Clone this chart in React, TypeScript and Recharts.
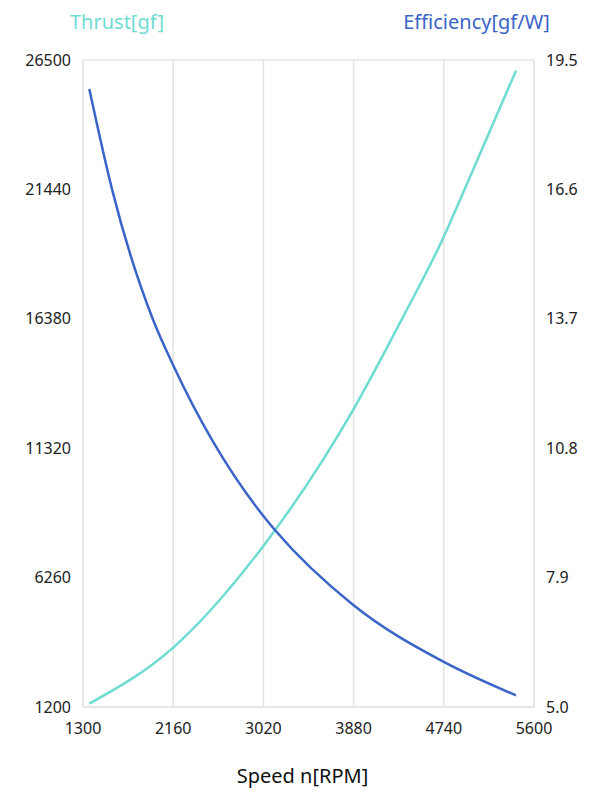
import React from 'react';
import { LineChart, Line, XAxis, YAxis, CartesianGrid } from 'recharts';

const speedTicks = [1300, 2160, 3020, 3880, 4740, 5600];
const thrustTicks = [1200, 6260, 11320, 16380, 21440, 26500];
const effTicks = [5.0, 7.9, 10.8, 13.7, 16.6, 19.5];

const thrustSpeeds = [1360, 2160, 3020, 3880, 4342, 4740, 4938, 5428];
const thrustValues = [1330, 3520, 7500, 12850, 16380, 19590, 21440, 26080];

const effSpeeds = [1360, 1577, 1966, 2160, 3020, 3132, 3880, 4740, 5428];
const effValues = [18.85, 16.6, 13.69, 12.66, 9.28, 8.96, 7.28, 6.01, 5.26];

const thrustData = thrustSpeeds.map((s, i) => ({ speed: s, thrust: thrustValues[i] }));
const effData = effSpeeds.map((s, i) => ({ speed: s, eff: effValues[i] }));

const TEAL = '#6FDCD2';
const BLUE = '#3A64C8';
const GRID = '#E5E5E5';
const FONT = '"Noto Sans", sans-serif';

export default function App() {
  const tickStyle = { fill: '#222', fontSize: 16, fontFamily: FONT };
  return (
    <div style={{ position: 'relative', width: 592, height: 783 }}>
      <LineChart
        width={592}
        height={783}
        margin={{ top: 52, right: 0, bottom: 0, left: 0 }}
      >
        <CartesianGrid stroke={GRID} strokeWidth={1.5} />
        <XAxis
          dataKey="speed"
          type="number"
          domain={[1300, 5600]}
          ticks={speedTicks}
          allowDataOverflow
          height={84}
          tickSize={0}
          tickMargin={16}
          axisLine={{ stroke: GRID, strokeWidth: 1.5 }}
          tickLine={false}
          tick={tickStyle}
          label={{
            value: 'Speed n[RPM]',
            position: 'insideBottom',
            offset: 8,
            dx: -6,
            style: { fill: '#111', fontSize: 20, fontFamily: FONT },
          }}
        />
        <YAxis
          yAxisId="left"
          orientation="left"
          type="number"
          domain={[1200, 26500]}
          ticks={thrustTicks}
          allowDataOverflow
          width={75}
          tickSize={0}
          tickMargin={12}
          axisLine={{ stroke: GRID, strokeWidth: 1.5 }}
          tickLine={false}
          tick={tickStyle}
        />
        <YAxis
          yAxisId="right"
          orientation="right"
          type="number"
          domain={[5, 19.5]}
          ticks={effTicks}
          allowDataOverflow
          width={66}
          tickSize={0}
          tickMargin={12}
          axisLine={{ stroke: GRID, strokeWidth: 1.5 }}
          tickLine={false}
          tick={tickStyle}
          tickFormatter={(v: number) => v.toFixed(1)}
        />
        <Line
          yAxisId="left"
          data={thrustData}
          dataKey="thrust"
          type="monotone"
          stroke={TEAL}
          strokeWidth={2.5}
          dot={false}
          activeDot={false}
          isAnimationActive={false}
        />
        <Line
          yAxisId="right"
          data={effData}
          dataKey="eff"
          type="monotone"
          stroke={BLUE}
          strokeWidth={2.5}
          dot={false}
          activeDot={false}
          isAnimationActive={false}
        />
      </LineChart>
      <svg
        width={592}
        height={60}
        style={{ position: 'absolute', left: 0, top: 0, pointerEvents: 'none' }}
      >
        <text x={109} y={21.3} textAnchor="middle" fill={TEAL} fontSize={20} fontFamily={FONT}>
          Thrust[gf]
        </text>
        <text x={468.5} y={21.3} textAnchor="middle" fill={BLUE} fontSize={20} fontFamily={FONT}>
          Efficiency[gf/W]
        </text>
      </svg>
    </div>
  );
}
